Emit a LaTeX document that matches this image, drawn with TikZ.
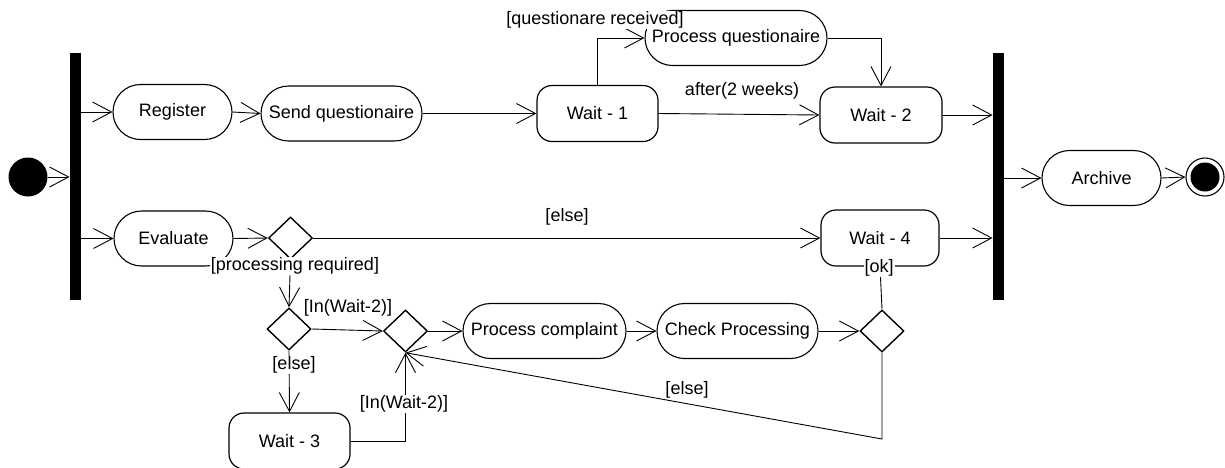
\documentclass[tikz,border=0pt]{standalone}
\usepackage{fontspec}
\setmainfont{Liberation Sans}
\usetikzlibrary{shapes.geometric,arrows.meta}
\begin{document}
\begin{tikzpicture}[x=1pt,y=-1pt,
  font=\fontsize{18}{21}\selectfont,
  every path/.style={line width=0.9pt},
  flow/.style={draw=black,line width=0.9pt,-{Straight Barb[length=19pt,width=20pt,line width=0.9pt]}},
  plain/.style={draw=black,line width=0.9pt},
  action/.style={draw=black,line width=1.1pt,rectangle,rounded corners=27.5pt,minimum height=55pt,inner sep=2pt},
  waitst/.style={draw=black,line width=1.2pt,rectangle,rounded corners=15pt,minimum height=56pt,minimum width=120pt,inner sep=2pt},
  decision/.style={draw=black,line width=1.4pt,diamond,minimum width=44pt,minimum height=42pt,inner sep=0pt},
  bar/.style={fill=black,draw=none,rectangle,minimum width=11pt,minimum height=247pt,inner sep=0pt},
  guard/.style={fill=white,inner sep=1pt},
  guardclear/.style={inner sep=1pt}
]
\useasboundingbox (0,0) rectangle (1225,467);

% start / end
\node[circle,fill=black,minimum size=39pt,inner sep=0pt] (init) at (28,177) {};
\node[circle,draw=black,line width=1.1pt,minimum size=38pt,inner sep=0pt] (final) at (1205,177) {};
\node[circle,fill=black,minimum size=29pt,inner sep=0pt] (finalin) at (1205,177) {};

% bars
\node[bar] (lbar) at (75.5,176.5) {};
\node[bar] (rbar) at (998.5,176.5) {};

% actions
\node[action,minimum width=119pt] (reg) at (172.5,112) {Register};
\node[action,minimum width=161pt] (sendq) at (341.5,113.5) {Send questionaire};
\node[action,minimum width=182pt] (pq) at (736,38) {Process questionaire};
\node[action,minimum width=119pt] (eval) at (173.5,238.5) {Evaluate};
\node[action,minimum width=163pt] (pc) at (544.5,331) {Process complaint};
\node[action,minimum width=161pt] (cp) at (737.5,331) {Check Processing};
\node[action,minimum width=119pt] (arch) at (1101.5,178) {Archive};

% wait states
\node[waitst,minimum width=121pt] (w1) at (597.5,113.5) {Wait - 1};
\node[waitst,minimum width=122pt] (w2) at (881,115) {Wait - 2};
\node[waitst,minimum width=118pt] (w4) at (880,238) {Wait - 4};
\node[waitst,minimum width=121pt] (w3) at (289.5,441) {Wait - 3};

% decisions
\node[decision] (d1) at (290.5,238) {};
\node[decision] (d2) at (289,329) {};
\node[decision] (d4) at (405.5,331) {};
\node[decision] (d3) at (882,331) {};

\coordinate (cb) at (882,439);

% connectors
\draw[flow] (init.east) -- (init.east -| lbar.west);
\draw[flow] (reg.west -| lbar.east) -- (reg.west);
\draw[flow] (reg.east) -- (sendq.west);
\draw[flow] (sendq.east) -- (w1.west);
\draw[flow] (w1.north) |- (pq.west);
\draw[flow] (pq.east) -| (w2.north);
\draw[flow] (w1.east) -- (w2.west);
\draw[flow] (w2.east) -- (w2.east -| rbar.west);
\draw[flow] (eval.west -| lbar.east) -- (eval.west);
\draw[flow] (eval.east) -- (d1.west);
\draw[flow] (d1.east) -- (w4.west);
\draw[flow] (w4.east) -- (w4.east -| rbar.west);
\draw[flow] (d1.south) -- (d2.north);
\draw[flow] (d2.east) -- (d4.west);
\draw[flow] (d2.south) -- (w3.north);
\draw[flow] (w3.east) -| (d4.south);
\draw[flow] (d4.east) -- (pc.west);
\draw[flow] (pc.east) -- (cp.west);
\draw[flow] (cp.east) -- (d3.west);
\draw[plain] (d3.north) -- (w4.south);
\draw[flow] (d3.south) -- (cb) -- (d4.south);
\draw[flow] (rbar.east |- arch.west) -- (arch.west);
\draw[flow] (arch.east) -- (final.west);

% guards
\node[guard] (gqr) at (595,20) {[questionare received]};
\node[guardclear] (g2w) at (742,91) {after(2 weeks)};
\node[guardclear] (gelse1) at (567,217) {[else]};
\node[guard] (gpr) at (295,266) {[processing required]};
\node[guardclear] (gin1) at (348,308) {[In(Wait-2)]};
\node[guard] (gelse2) at (294,365) {[else]};
\node[guard] (gin2) at (404,404) {[In(Wait-2)]};
\node[guard] (gok) at (879,268) {[ok]};
\node[guard] (gelse3) at (687,390) {[else]};
\end{tikzpicture}
\end{document}
